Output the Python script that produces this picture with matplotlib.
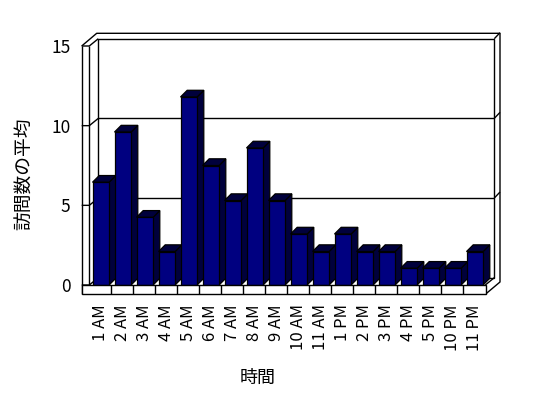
import numpy as np
import matplotlib
matplotlib.use('Agg')
import matplotlib.pyplot as plt
from matplotlib.patches import Polygon

plt.rcParams['font.family'] = ['Noto Sans CJK JP', 'DejaVu Sans']

hours = ['1 AM', '2 AM', '3 AM', '4 AM', '5 AM', '6 AM', '7 AM', '8 AM', '9 AM',
         '10 AM', '11 AM', '1 PM', '2 PM', '3 PM', '4 PM', '5 PM', '10 PM', '11 PM']
visits = [6.45, 9.6, 4.25, 2.1, 11.8, 7.5, 5.3, 8.6, 5.3,
          3.2, 2.1, 3.2, 2.1, 2.1, 1.05, 1.05, 1.05, 2.1]
yticks = [0, 5, 10, 15]
ymax = 15

W, H = 548, 398
fig = plt.figure(figsize=(W / 100, H / 100), dpi=100)

# front plane of the 3d box, in pixels
fx0, fx1 = 89.3, 485.3
fy0, fy1 = 285.0, 46.0
ax = fig.add_axes([fx0 / W, 1 - fy0 / H, (fx1 - fx0) / W, (fy0 - fy1) / H])
n = len(hours)
ax.set_xlim(0, n)
ax.set_ylim(0, ymax)
sx = n / (fx1 - fx0)      # data units per pixel
sy = ymax / (fy0 - fy1)

ddx, ddy = 9 * sx, 7.3 * sy          # depth to back wall
lx = -7.6 * sx                       # outer edge of left wall
fb = -9 * sy                         # bottom of floor front face
rx = n + 14.7 * sx                   # outer right edge of back wall
ty = ymax + 12.7 * sy                # outer top edge of back wall

kw = dict(color='black', lw=1, clip_on=False, solid_capstyle='butt')

# back wall
ax.add_patch(Polygon([(ddx, ddy), (n + ddx, ddy), (n + ddx, ymax + ddy), (ddx, ymax + ddy)],
                     closed=True, facecolor='white', edgecolor='black', lw=1, clip_on=False))
for v in yticks[1:-1]:
    ax.plot([ddx, n + ddx], [v + ddy, v + ddy], **kw)
for v in yticks[1:]:
    ax.plot([n + ddx, rx], [v + ddy, v + ddy + 6 * sy], **kw)
ax.plot([lx, ddx - 1.6 * sx, rx, rx, n + 0.4 * sx],
        [ymax, ty, ty, 3 * sy, fb], **kw)
ax.plot([n, n + ddx], [0, ddy], **kw)

# left wall
ax.plot([lx, lx], [fb, ymax], **kw)
ax.plot([0, 0], [0, ymax], **kw)
for v in yticks:
    ax.plot([lx, 0, ddx], [v, v, v + ddy], **kw)

# bars
bw, bo = 16.6 * sx, 3.2 * sx
bdx, bdy = 6.7 * sx, 6.7 * sy
front_c, dark_c = '#000080', '#00003c'
for i, v in enumerate(visits):
    x0 = i + bo
    x1 = x0 + bw
    side = [(x1, 0), (x1 + bdx, bdy), (x1 + bdx, v + bdy), (x1, v)]
    top = [(x0, v), (x1, v), (x1 + bdx, v + bdy), (x0 + bdx, v + bdy)]
    front = [(x0, 0), (x1, 0), (x1, v), (x0, v)]
    for pts, c in [(side, dark_c), (top, dark_c), (front, front_c)]:
        ax.add_patch(Polygon(pts, closed=True, facecolor=c, edgecolor='black',
                             lw=0.9, clip_on=False, zorder=3))

# floor front face
ax.add_patch(Polygon([(lx, fb), (n + 0.4 * sx, fb), (n + 0.4 * sx, 0), (lx, 0)],
                     closed=True, facecolor='white', edgecolor='black', lw=1,
                     clip_on=False, zorder=4))
for i in range(1, n):
    ax.plot([i, i], [fb, 0], zorder=4, **kw)

for s in ax.spines.values():
    s.set_visible(False)
ax.set_facecolor('none')
ax.set_xticks(np.arange(n) + 0.5, hours, rotation=90, fontsize=12)
ax.set_yticks(yticks, [str(t) for t in yticks], fontsize=12.5)
ax.tick_params(axis='both', length=0)
ax.tick_params(axis='x', pad=14)
ax.tick_params(axis='y', pad=13.5)

fig.text(25 / W, 1 - 174 / H, '訪問数の平均', rotation=90, ha='center', va='center', fontsize=13.5)
fig.text(257.7 / W, 1 - 377.7 / H, '時間', ha='center', va='center', fontsize=13)

fig.savefig('out.png', dpi=100)
